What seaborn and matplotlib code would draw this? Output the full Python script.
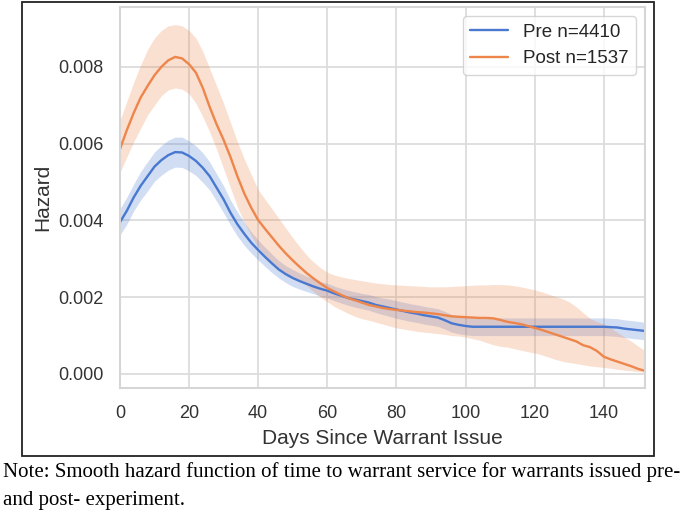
import pandas as pd
import seaborn as sns
import matplotlib.pyplot as plt
from matplotlib.patches import Rectangle

# timeline (days since warrant issue), one value every 2 days
days = list(range(0, 153, 2))

# hazard values, in units of 1e-3
pre_hazard = [
    3.95, 4.25, 4.6, 4.9, 5.15, 5.4, 5.57, 5.7, 5.78, 5.77,
    5.68, 5.55, 5.37, 5.15, 4.85, 4.55, 4.2, 3.9, 3.65, 3.42,
    3.23, 3.05, 2.88, 2.72, 2.6, 2.5, 2.42, 2.35, 2.28, 2.22,
    2.17, 2.1, 2.04, 1.98, 1.94, 1.9, 1.86, 1.8, 1.76, 1.72,
    1.68, 1.64, 1.6, 1.57, 1.53, 1.5, 1.47, 1.4, 1.32, 1.28,
    1.25, 1.23, 1.23, 1.23, 1.23, 1.23, 1.23, 1.23, 1.23, 1.23,
    1.23, 1.23, 1.23, 1.23, 1.23, 1.23, 1.23, 1.23, 1.23, 1.23,
    1.23, 1.22, 1.21, 1.18, 1.16, 1.14, 1.12,
]
pre_upper = [
    4.3, 4.6, 4.95, 5.27, 5.53, 5.78, 5.95, 6.09, 6.17, 6.17,
    6.07, 5.94, 5.76, 5.52, 5.21, 4.9, 4.53, 4.22, 3.95, 3.7,
    3.49, 3.3, 3.12, 2.95, 2.82, 2.72, 2.63, 2.55, 2.48, 2.41,
    2.36, 2.29, 2.23, 2.18, 2.14, 2.1, 2.07, 2.02, 1.98, 1.95,
    1.91, 1.87, 1.83, 1.8, 1.76, 1.73, 1.7, 1.63, 1.55, 1.51,
    1.48, 1.46, 1.46, 1.46, 1.46, 1.46, 1.46, 1.46, 1.46, 1.46,
    1.46, 1.46, 1.46, 1.46, 1.46, 1.46, 1.46, 1.46, 1.46, 1.46,
    1.46, 1.45, 1.44, 1.41, 1.39, 1.37, 1.34,
]
pre_lower = [
    3.62, 3.9, 4.25, 4.53, 4.77, 5.02, 5.18, 5.31, 5.39, 5.38,
    5.29, 5.17, 4.99, 4.79, 4.5, 4.2, 3.88, 3.59, 3.35, 3.15,
    2.97, 2.8, 2.64, 2.5, 2.38, 2.28, 2.21, 2.15, 2.09, 2.03,
    1.98, 1.91, 1.85, 1.79, 1.74, 1.7, 1.66, 1.6, 1.55, 1.5,
    1.45, 1.41, 1.37, 1.34, 1.3, 1.27, 1.24, 1.17, 1.09, 1.05,
    1.02, 1.0, 1.0, 1.0, 1.0, 1.0, 1.0, 1.0, 1.0, 1.0,
    1.0, 1.0, 1.0, 1.0, 1.0, 1.0, 1.0, 1.0, 1.0, 1.0,
    1.0, 0.99, 0.98, 0.95, 0.93, 0.91, 0.89,
]

post_hazard = [
    5.85, 6.35, 6.8, 7.2, 7.5, 7.78, 8.0, 8.17, 8.26, 8.22,
    8.07, 7.85, 7.45, 6.95, 6.5, 6.1, 5.65, 5.15, 4.7, 4.33,
    4.01, 3.78, 3.56, 3.34, 3.14, 2.96, 2.79, 2.63, 2.49, 2.36,
    2.24, 2.15, 2.06, 1.98, 1.92, 1.86, 1.8, 1.76, 1.72, 1.69,
    1.67, 1.65, 1.63, 1.61, 1.6, 1.58, 1.56, 1.53, 1.5, 1.49,
    1.48, 1.47, 1.46, 1.46, 1.45, 1.41, 1.36, 1.33, 1.3, 1.25,
    1.2, 1.15, 1.09, 1.03, 0.97, 0.91, 0.85, 0.75, 0.7, 0.6,
    0.45, 0.38, 0.32, 0.26, 0.2, 0.13, 0.08,
]
post_upper = [
    6.6, 7.1, 7.6, 8.05, 8.45, 8.75, 8.95, 9.07, 9.1, 9.07,
    8.95, 8.75, 8.4, 7.95, 7.5, 7.05, 6.55, 6.05, 5.6, 5.2,
    4.8, 4.55, 4.3, 4.05, 3.8, 3.55, 3.32, 3.1, 2.92, 2.77,
    2.65, 2.58, 2.53, 2.49, 2.46, 2.43, 2.4, 2.37, 2.35, 2.33,
    2.32, 2.31, 2.3, 2.29, 2.28, 2.27, 2.27, 2.27, 2.28, 2.29,
    2.3, 2.31, 2.32, 2.32, 2.33, 2.33, 2.32, 2.3, 2.27, 2.23,
    2.19, 2.14, 2.08, 2.02, 1.96, 1.88, 1.75, 1.6, 1.45, 1.36,
    1.3, 1.2, 1.08, 0.96, 0.85, 0.72, 0.6,
]
post_lower = [
    5.25, 5.65, 6.05, 6.4, 6.75, 7.0, 7.25, 7.4, 7.45, 7.42,
    7.3, 7.05, 6.7, 6.3, 5.85, 5.35, 4.85, 4.35, 3.95, 3.6,
    3.31, 3.1, 2.9, 2.72, 2.58, 2.5, 2.42, 2.3, 2.15, 2.0,
    1.88, 1.76, 1.67, 1.58, 1.5, 1.44, 1.4, 1.35, 1.3, 1.25,
    1.2, 1.17, 1.14, 1.11, 1.09, 1.07, 1.05, 1.03, 1.0, 0.99,
    0.96, 0.92, 0.88, 0.82, 0.76, 0.72, 0.7, 0.66, 0.62, 0.58,
    0.55, 0.5, 0.44, 0.38, 0.33, 0.3, 0.27, 0.24, 0.21, 0.19,
    0.17, 0.15, 0.12, 0.1, 0.08, 0.06, 0.05,
]

group_labels = ['Pre n=4410', 'Post n=1537']
note_lines = ['Note: Smooth hazard function of time to warrant service for warrants issued pre-',
              'and post- experiment.']

config = {
    'figsize': (6.85, 5.18),
    'dpi': 100,
    'tick_size': 13,
    'label_size': 15,
    'legend_size': 13.5,
    'note_size': 15.0,
    'line_width': 1.7,
    'band_alpha': 0.25,
}

sns.set_theme(style='whitegrid', palette='muted')
plt.rcParams['font.family'] = ['Liberation Sans', 'DejaVu Sans']
plt.rcParams['axes.edgecolor'] = '#d6d6d6'
plt.rcParams['grid.color'] = '#dcdcdc'
plt.rcParams['grid.linewidth'] = 1.3

df = pd.concat([
    pd.DataFrame({'day': days, 'hazard': [v / 1000 for v in pre_hazard], 'group': group_labels[0]}),
    pd.DataFrame({'day': days, 'hazard': [v / 1000 for v in post_hazard], 'group': group_labels[1]}),
])
colors = sns.color_palette('muted', 2)

fig = plt.figure(figsize=config['figsize'], dpi=config['dpi'])
ax = fig.add_axes([0.175, 0.251, 0.767, 0.7355])

bands = [(pre_lower, pre_upper), (post_lower, post_upper)]
for (lo, hi), c in zip(bands, colors):
    ax.fill_between(days, [v / 1000 for v in lo], [v / 1000 for v in hi],
                    color=c, alpha=config['band_alpha'], linewidth=0)

sns.lineplot(data=df, x='day', y='hazard', hue='group', hue_order=group_labels, palette=colors,
             linewidth=config['line_width'], ax=ax, errorbar=None)

ax.set_xlim(0, 152)
ax.set_ylim(-0.000365, 0.00956)
ax.set_xticks(range(0, 141, 20))
ax.set_yticks([0, 0.002, 0.004, 0.006, 0.008])
ax.set_yticklabels(['0.000', '0.002', '0.004', '0.006', '0.008'])
ax.tick_params(labelsize=config['tick_size'], colors='#333333', pad=12, length=0)
ax.set_xlabel('Days Since Warrant Issue', fontsize=config['label_size'], color='#333333', labelpad=5)
ax.set_ylabel('Hazard', fontsize=config['label_size'], color='#333333', labelpad=4)
for spine in ax.spines.values():
    spine.set_linewidth(1.5)

leg = ax.legend(title=None, fontsize=config['legend_size'], loc='upper right', framealpha=0.8)
for line in leg.get_lines():
    line.set_linewidth(config['line_width'])

# frame around the chart, as in the source figure
fig.patches.append(Rectangle((0.032, 0.1197), 0.923, 0.8763, transform=fig.transFigure,
                             fill=False, edgecolor='#222222', linewidth=1.3))

for text, y in zip(note_lines, [0.088, 0.034]):
    fig.text(0.005, y, text, fontsize=config['note_size'], family=['Liberation Serif', 'DejaVu Serif'],
             va='center', ha='left', color='black')

fig.savefig('out.png', dpi=config['dpi'])
